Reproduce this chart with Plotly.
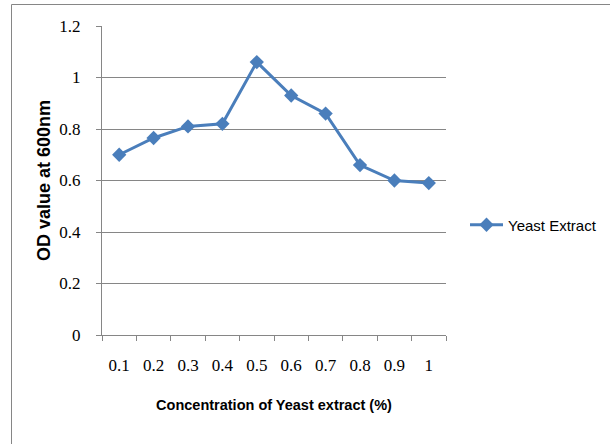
import plotly.graph_objects as go

# Yeast extract concentration (%) vs optical density at 600 nm
concentration = ["0.1", "0.2", "0.3", "0.4", "0.5", "0.6", "0.7", "0.8", "0.9", "1"]
od_600 = [0.70, 0.765, 0.81, 0.82, 1.06, 0.93, 0.86, 0.66, 0.60, 0.59]
y_ticks = [0, 0.2, 0.4, 0.6, 0.8, 1, 1.2]
y_tick_text = ["0", "0.2", "0.4", "0.6", "0.8", "1", "1.2"]

BLUE = "#4a7ebb"
GRID = "#868686"
W, H = 610, 444
ML, MR, MT, MB = 102, 164, 26, 109
PW, PH = W - ML - MR, H - MT - MB


def px_to_paper_x(px):
    return (px - ML) / PW


def px_to_paper_y(py):
    return (H - MB - py) / PH


fig = go.Figure()
fig.add_trace(go.Scatter(
    x=concentration, y=od_600, mode="lines+markers", name="Yeast Extract",
    line=dict(color=BLUE, width=3),
    marker=dict(symbol="diamond", size=11, color=BLUE),
))

# outer chart frame
fig.add_shape(type="rect", xref="paper", yref="paper",
              x0=px_to_paper_x(11.5), x1=px_to_paper_x(640),
              y0=px_to_paper_y(470), y1=px_to_paper_y(4.5),
              line=dict(color=GRID, width=1), fillcolor="rgba(0,0,0,0)", layer="below")

fig.update_layout(
    width=W, height=H,
    margin=dict(l=ML, r=MR, t=MT, b=MB, autoexpand=False),
    paper_bgcolor="white", plot_bgcolor="white",
    showlegend=True,
    legend=dict(x=px_to_paper_x(465), y=px_to_paper_y(225), xanchor="left", yanchor="middle",
                font=dict(family="Liberation Sans", size=15, color="black"),
                bgcolor="rgba(0,0,0,0)", itemwidth=33, borderwidth=0),
    xaxis=dict(
        type="category", range=[-0.5, 9.5],
        showgrid=False, showline=True, linecolor=GRID, linewidth=1,
        ticks="outside", tickson="boundaries", ticklen=5, tickcolor=GRID,
        tickfont=dict(family="Liberation Serif", size=17, color="black"),
        ticklabelstandoff=15,
        title=dict(text="<b>Concentration of Yeast extract (%)</b>",
                   font=dict(family="Liberation Sans", size=14.5, color="black"),
                   standoff=25),
    ),
    yaxis=dict(
        range=[0, 1.2], tickvals=y_ticks, ticktext=y_tick_text,
        showgrid=True, gridcolor=GRID, gridwidth=1,
        showline=True, linecolor=GRID, linewidth=1,
        ticks="outside", ticklen=5, tickcolor=GRID,
        tickfont=dict(family="Liberation Serif", size=17, color="black"),
        ticklabelstandoff=12, zeroline=False,
        title=dict(text="<b>OD value at 600nm</b>",
                   font=dict(family="Liberation Sans", size=18, color="black"),
                   standoff=4),
    ),
)

fig.write_html("out.html")
